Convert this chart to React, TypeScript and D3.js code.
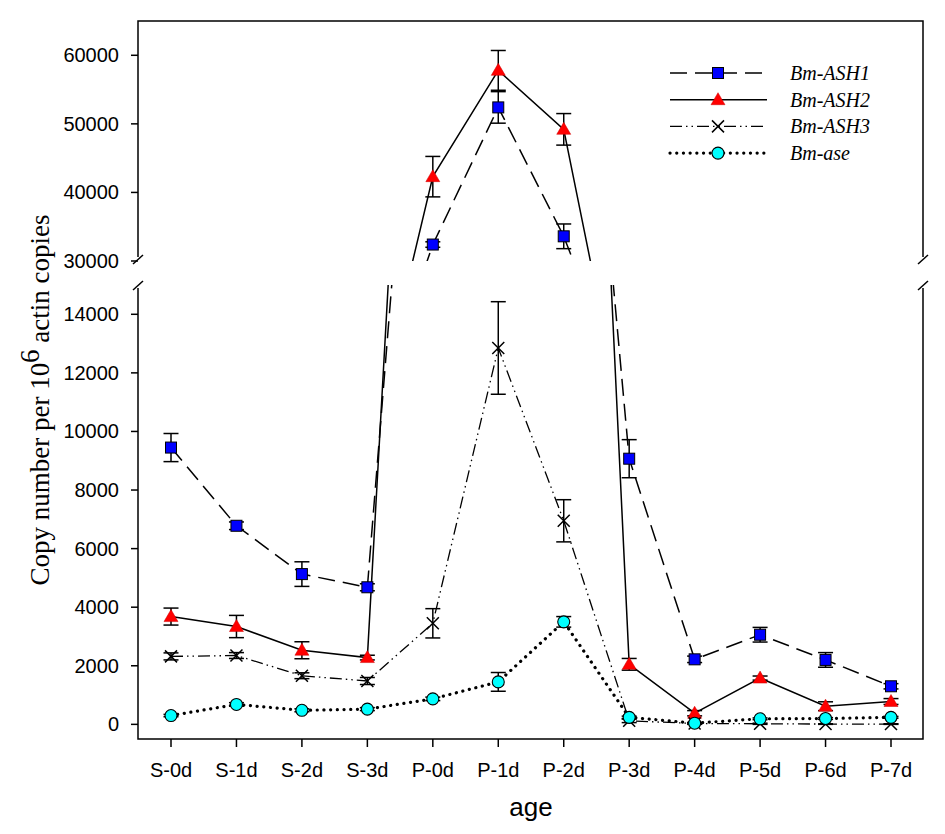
import * as d3 from "d3";

const ages = ["S-0d", "S-1d", "S-2d", "S-3d", "P-0d", "P-1d", "P-2d", "P-3d", "P-4d", "P-5d", "P-6d", "P-7d"];

const ash1 = [9450, 6780, 5130, 4680, 32400, 52400, 33600, 9070, 2220, 3060, 2200, 1300];
const ash1Err = [480, 130, 420, 120, 400, 2300, 1800, 650, 110, 250, 250, 90];
const ash2 = [3680, 3340, 2530, 2280, 42300, 57800, 49200, 2050, 380, 1580, 620, 780];
const ash2Err = [290, 380, 290, 80, 2950, 2900, 2300, 200, 90, 70, 150, 100];
const ash3 = [2320, 2350, 1660, 1480, 3450, 12850, 6950, 120, 30, 20, 10, 10];
const ash3Err = [120, 100, 100, 120, 500, 1580, 720, 60, 30, 20, 10, 10];
const ase = [300, 680, 480, 520, 870, 1450, 3500, 240, 40, 190, 200, 240];
const aseErr = [40, 60, 50, 50, 60, 320, 180, 40, 20, 30, 30, 30];

const bottomTicks = [0, 2000, 4000, 6000, 8000, 10000, 12000, 14000];
const topTicks = [30000, 40000, 50000, 60000];

const legendNames = ["Bm-ASH1", "Bm-ASH2", "Bm-ASH3", "Bm-ase"];

const BREAK = 30000;

const x = d3.scalePoint().domain(ages).range([171, 891]);
const yTop = d3.scaleLinear().domain([30000, 65000]).range([261, 21]);
const yBot = d3.scaleLinear().domain([-500, 15000]).range([739, 285]);

const series = [
  { name: legendNames[0], values: ash1, err: ash1Err, dash: "17,8", width: 1.5, cap: "butt", marker: "square" },
  { name: legendNames[1], values: ash2, err: ash2Err, dash: null, width: 1.5, cap: "butt", marker: "triangle" },
  { name: legendNames[2], values: ash3, err: ash3Err, dash: "12,4,1.5,4,1.5,4", width: 1.3, cap: "butt", marker: "cross" },
  { name: legendNames[3], values: ase, err: aseErr, dash: "0.1,6.6", width: 3.2, cap: "round", marker: "circle" },
];

function Marker({ type, cx, cy }) {
  if (type === "square")
    return <rect x={cx - 5.5} y={cy - 5.5} width={11} height={11} fill="#0000ff" stroke="#000" strokeWidth={1} />;
  if (type === "triangle")
    return <path d={`M${cx},${cy - 7}L${cx + 7},${cy + 5}L${cx - 7},${cy + 5}Z`} fill="#ff0000" stroke="#cc0000" strokeWidth={0.5} />;
  if (type === "cross")
    return (
      <path d={`M${cx - 6},${cy - 6}L${cx + 6},${cy + 6}M${cx - 6},${cy + 6}L${cx + 6},${cy - 6}`} stroke="#000" strokeWidth={1.5} />
    );
  return <circle cx={cx} cy={cy} r={6} fill="#00ffff" stroke="#000" strokeWidth={1.1} />;
}

function Panel({ y, clipId, inPanel }) {
  const line = d3.line().x((_, i) => x(ages[i])).y(v => y(v));
  return (
    <g clipPath={`url(#${clipId})`}>
      {series.map(s => (
        <path
          key={s.name + "l"}
          d={line(s.values)}
          fill="none"
          stroke="#000"
          strokeWidth={s.width}
          strokeDasharray={s.dash || undefined}
          strokeLinecap={s.cap}
        />
      ))}
      {series.map(s =>
        s.values.map((v, i) =>
          inPanel(v) ? (
            <g key={s.name + i} stroke="#000" strokeWidth={1.5}>
              <line x1={x(ages[i])} x2={x(ages[i])} y1={y(v - s.err[i])} y2={y(v + s.err[i])} />
              <line x1={x(ages[i]) - 7.5} x2={x(ages[i]) + 7.5} y1={y(v + s.err[i])} y2={y(v + s.err[i])} />
              <line x1={x(ages[i]) - 7.5} x2={x(ages[i]) + 7.5} y1={y(v - s.err[i])} y2={y(v - s.err[i])} />
            </g>
          ) : null
        )
      )}
      {series.map(s =>
        s.values.map((v, i) =>
          inPanel(v) ? <Marker key={s.name + "m" + i} type={s.marker} cx={x(ages[i])} cy={y(v)} /> : null
        )
      )}
    </g>
  );
}

export default function App() {
  const left = 138;
  const right = 923;
  const topY = 21;
  const topBottom = 261;
  const botTop = 285;
  const botBottom = 739;
  const axisFont = "Arial, 'Liberation Sans', sans-serif";
  const serif = "'Times New Roman', 'Liberation Serif', serif";

  return (
    <svg width={945} height={834} style={{ position: "absolute", left: 0, top: 0, background: "#fff" }}>
      <defs>
        <clipPath id="clipTop">
          <rect x={left} y={topY} width={right - left} height={topBottom - topY} />
        </clipPath>
        <clipPath id="clipBot">
          <rect x={left} y={botTop} width={right - left} height={botBottom - botTop} />
        </clipPath>
      </defs>

      <Panel y={yTop} clipId="clipTop" inPanel={v => v >= BREAK} />
      <Panel y={yBot} clipId="clipBot" inPanel={v => v < BREAK} />

      {/* frame */}
      <g stroke="#000" strokeWidth={1.5} fill="none">
        <path d={`M${left},${topBottom - 4}V${topY}H${right}V${topBottom - 4}`} />
        <path d={`M${left},${botTop + 3}V${botBottom}H${right}V${botTop + 3}`} />
        {[left, right].map(px => (
          <g key={px}>
            <line x1={px - 5} y1={topBottom + 3} x2={px + 5} y2={topBottom - 6} />
            <line x1={px - 5} y1={botTop + 5} x2={px + 5} y2={botTop - 4} />
          </g>
        ))}
      </g>

      {/* y ticks */}
      <g fontFamily={axisFont} fontSize={20} textAnchor="end">
        {topTicks.map(t => (
          <g key={t}>
            <line x1={left - 7} x2={left} y1={yTop(t)} y2={yTop(t)} stroke="#000" strokeWidth={1.5} />
            <text x={119} y={yTop(t)} dy="0.35em">{t}</text>
          </g>
        ))}
        {bottomTicks.map(t => (
          <g key={t}>
            <line x1={left - 7} x2={left} y1={yBot(t)} y2={yBot(t)} stroke="#000" strokeWidth={1.5} />
            <text x={119} y={yBot(t)} dy="0.35em">{t}</text>
          </g>
        ))}
      </g>

      {/* x ticks */}
      <g fontFamily={axisFont} fontSize={20} textAnchor="middle">
        {ages.map(a => (
          <g key={a}>
            <line x1={x(a)} x2={x(a)} y1={botBottom} y2={botBottom + 8} stroke="#000" strokeWidth={1.5} />
            <text x={x(a)} y={777}>{a}</text>
          </g>
        ))}
      </g>

      <text x={531} y={816} fontFamily={axisFont} fontSize={26} textAnchor="middle">age</text>

      <text
        transform="translate(49,400) rotate(-90)"
        fontFamily={serif}
        fontSize={27}
        textAnchor="middle"
      >
        Copy number per 10<tspan dy={-10}>6</tspan><tspan dy={10}> actin copies</tspan>
      </text>

      {/* legend */}
      <g>
        {series.map((s, i) => {
          const ly = 73 + i * 26.7;
          return (
            <g key={s.name}>
              <line
                x1={670}
                x2={767}
                y1={ly}
                y2={ly}
                stroke="#000"
                strokeWidth={s.width}
                strokeDasharray={s.dash || undefined}
                strokeLinecap={s.cap}
              />
              <Marker type={s.marker} cx={718} cy={ly} />
              <text x={790} y={ly} dy="0.35em" fontFamily={serif} fontStyle="italic" fontSize={20}>
                {s.name}
              </text>
            </g>
          );
        })}
      </g>
    </svg>
  );
}
